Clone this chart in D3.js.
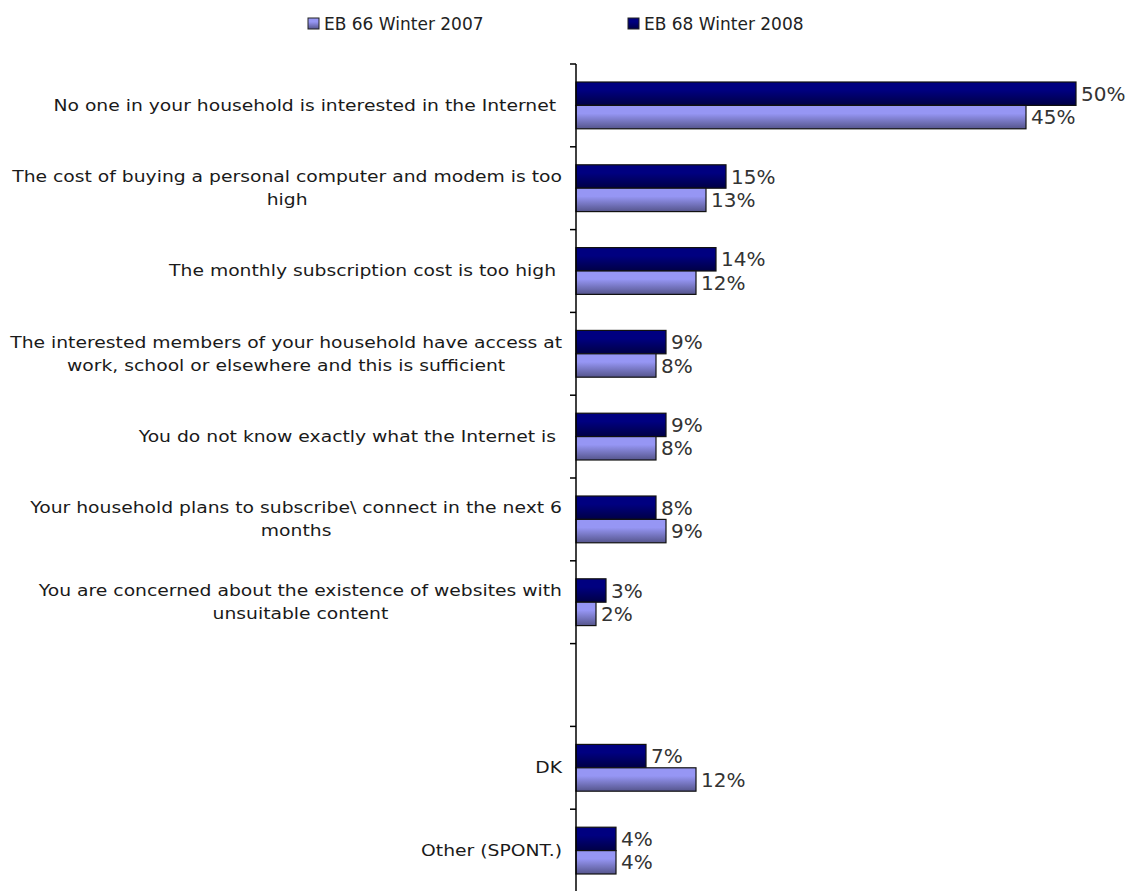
<!DOCTYPE html>
<html>
<head>
<meta charset="utf-8">
<script src="https://cdn.jsdelivr.net/npm/d3@7"></script>
<style>
  body { margin: 0; background: #fff; }
  svg text { font-family: "DejaVu Sans", Verdana, sans-serif; }
</style>
</head>
<body>
<div id="graphic"></div>
<script>
// categories, lines split with \n
var categories = [
  "No one in your household is interested in the Internet ",
  "The cost of buying a personal computer and modem is too\nhigh",
  "The monthly subscription cost is too high ",
  "The interested members of your household have access at\nwork, school or elsewhere and this is sufficient",
  "You do not know exactly what the Internet is ",
  "Your household plans to subscribe\\ connect in the next 6\nmonths",
  "You are concerned about the existence of websites with\nunsuitable content",
  "",
  "DK",
  "Other (SPONT.)"
];
var seriesNames = ["EB 68 Winter 2008", "EB 66 Winter 2007"];
var legendOrder = ["EB 66 Winter 2007", "EB 68 Winter 2008"];
var values2008 = [50, 15, 14, 9, 9, 8, 3, null, 7, 4];
var values2007 = [45, 13, 12, 8, 8, 9, 2, null, 12, 4];
var xDomain = [0, 50];

var width = 1132, height = 891;
var axisX = 576, plotTop = 64, plotBottom = 892;
var labelRight = 562;
var labelStretch = 1.21;

var svg = d3.select('#graphic').append('svg')
  .attr('width', width)
  .attr('height', height);

// gradients for the two series
var defs = svg.append('defs');
var grads = [
  { id: 'g2008', stops: ['#000080', '#000045'] },
  { id: 'g2007', stops: ['#9696f4', '#55558c'] }
];
grads.forEach(function(g) {
  var lg = defs.append('linearGradient').attr('id', g.id)
    .attr('x1', 0).attr('y1', 0).attr('x2', 0).attr('y2', 1);
  lg.append('stop').attr('offset', '0%').attr('stop-color', g.stops[0]);
  lg.append('stop').attr('offset', '35%').attr('stop-color', g.stops[0]);
  lg.append('stop').attr('offset', '100%').attr('stop-color', g.stops[1]);
});
var fills = { "EB 68 Winter 2008": 'url(#g2008)', "EB 66 Winter 2007": 'url(#g2007)' };

// scales
var y = d3.scaleBand()
  .domain(categories)
  .range([plotTop, plotBottom])
  .padding(0);

var y1 = d3.scaleBand()
  .domain(seriesNames)
  .range([0, y.bandwidth()])
  .paddingOuter(0.77)
  .paddingInner(0);

var x = d3.scaleLinear()
  .domain(xDomain)
  .range([axisX, axisX + 500]);

var data = categories.map(function(c, i) {
  return { cat: c, vals: [
    { s: "EB 68 Winter 2008", v: values2008[i] },
    { s: "EB 66 Winter 2007", v: values2007[i] }
  ] };
});

// legend
var legend = svg.append('g').attr('class', 'legend');
var legendX = [308, 628];
legendOrder.forEach(function(name, i) {
  var g = legend.append('g').attr('transform', 'translate(' + legendX[i] + ',18)');
  g.append('rect')
    .attr('width', 11).attr('height', 11)
    .attr('fill', fills[name])
    .attr('stroke', '#222').attr('stroke-width', 1);
  g.append('text')
    .attr('x', 16).attr('y', 6).attr('dy', '0.35em')
    .attr('font-size', 17).attr('fill', '#222')
    .text(name);
});

// bars
var groups = svg.selectAll('g.cat')
  .data(data)
  .join('g')
  .attr('class', 'cat')
  .attr('transform', function(d) { return 'translate(0,' + y(d.cat) + ')'; });

groups.selectAll('rect')
  .data(function(d) { return d.vals.filter(function(e) { return e.v != null; }); })
  .join('rect')
  .attr('x', x(0))
  .attr('y', function(d) { return y1(d.s); })
  .attr('width', function(d) { return x(d.v) - x(0); })
  .attr('height', y1.bandwidth())
  .attr('fill', function(d) { return fills[d.s]; })
  .attr('stroke', '#111')
  .attr('stroke-width', 1.2);

groups.selectAll('text.value')
  .data(function(d) { return d.vals.filter(function(e) { return e.v != null; }); })
  .join('text')
  .attr('class', 'value')
  .attr('x', function(d) { return x(d.v) + 5; })
  .attr('y', function(d) { return y1(d.s) + y1.bandwidth() / 2; })
  .attr('dy', '0.36em')
  .attr('font-size', 20)
  .attr('fill', '#333')
  .text(function(d) { return d.v + '%'; });

// category labels, centred lines in a right aligned block (wide face, so stretched)
var lineHeight = 23;
groups.each(function(d) {
  if (!d.cat) return;
  var lines = d.cat.split('\n');
  var t = d3.select(this).append('text')
    .attr('transform', 'translate(' + labelRight + ',0) scale(' + labelStretch + ',1)')
    .attr('font-size', 15.5)
    .attr('fill', '#1a1a1a')
    .attr('text-anchor', 'middle')
    .attr('xml:space', 'preserve');
  var y0 = y.bandwidth() / 2 - (lines.length - 1) * lineHeight / 2;
  var spans = lines.map(function(l, i) {
    return t.append('tspan').attr('y', y0 + i * lineHeight).attr('dy', '0.35em').text(l);
  });
  var maxW = d3.max(spans, function(s) { return s.node().getComputedTextLength(); });
  spans.forEach(function(s) { s.attr('x', -maxW / 2); });
});

// y axis with ticks on band edges
var axis = svg.append('g').attr('class', 'axis');
axis.append('line')
  .attr('x1', axisX).attr('x2', axisX)
  .attr('y1', plotTop).attr('y2', plotBottom)
  .attr('stroke', '#000').attr('stroke-width', 1.5);
axis.selectAll('line.tick')
  .data(categories)
  .join('line')
  .attr('class', 'tick')
  .attr('x1', axisX - 6).attr('x2', axisX)
  .attr('y1', function(d) { return y(d); })
  .attr('y2', function(d) { return y(d); })
  .attr('stroke', '#000').attr('stroke-width', 1.5);
</script>
</body>
</html>
